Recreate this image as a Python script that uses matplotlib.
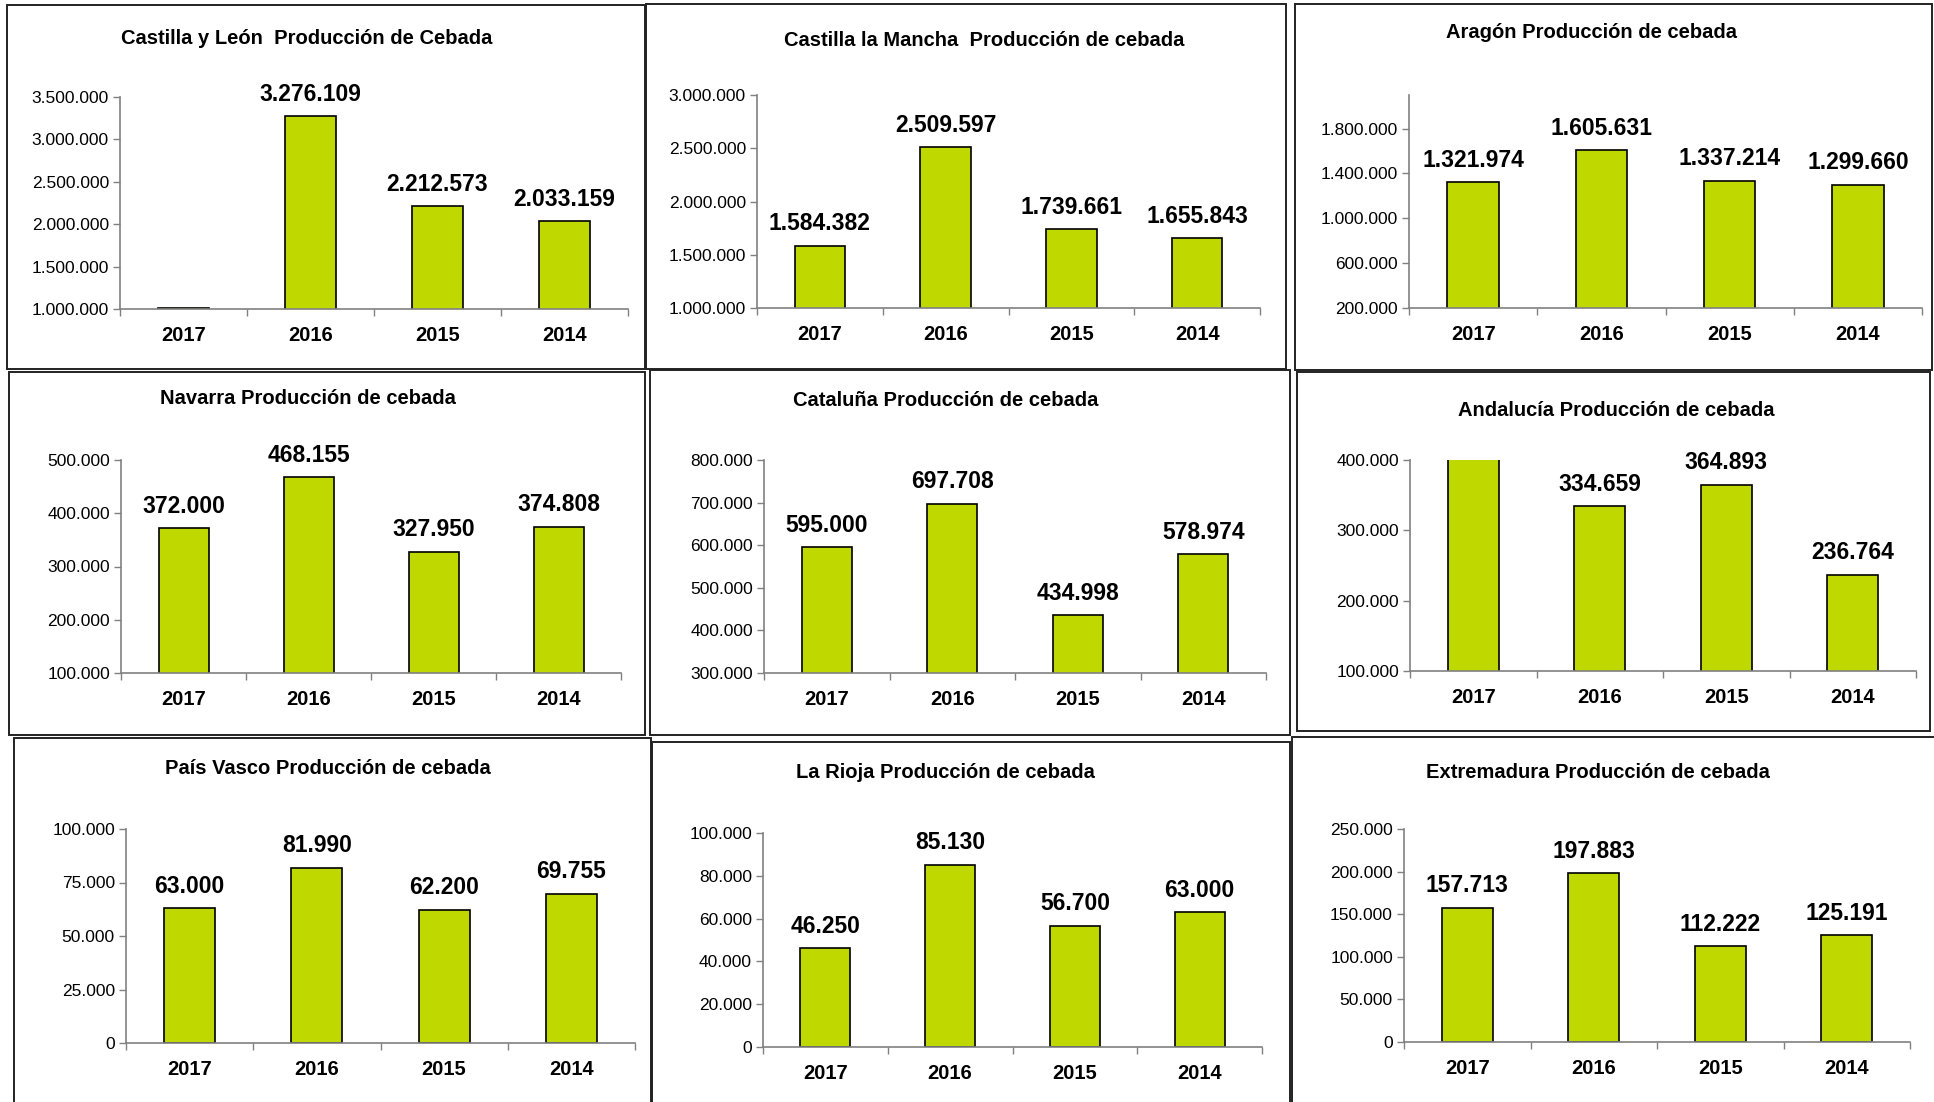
import matplotlib
matplotlib.use("Agg")
import matplotlib.pyplot as plt
from matplotlib.patches import Rectangle
from matplotlib.ticker import FuncFormatter, FixedLocator

plt.rcParams['font.family'] = ['Liberation Sans', 'DejaVu Sans']

years = ["2017", "2016", "2015", "2014"]

titles = [
    "Castilla y León  Producción de Cebada",
    "Castilla la Mancha  Producción de cebada",
    "Aragón Producción de cebada",
    "Navarra Producción de cebada",
    "Cataluña Producción de cebada",
    "Andalucía Producción de cebada",
    "País Vasco Producción de cebada",
    "La Rioja Producción de cebada",
    "Extremadura Producción de cebada",
]

castilla_leon = [1010000, 3276109, 2212573, 2033159]
castilla_mancha = [1584382, 2509597, 1739661, 1655843]
aragon = [1321974, 1605631, 1337214, 1299660]
navarra = [372000, 468155, 327950, 374808]
cataluna = [595000, 697708, 434998, 578974]
andalucia = [420000, 334659, 364893, 236764]
pais_vasco = [63000, 81990, 62200, 69755]
la_rioja = [46250, 85130, 56700, 63000]
extremadura = [157713, 197883, 112222, 125191]

series = [castilla_leon, castilla_mancha, aragon, navarra, cataluna,
          andalucia, pais_vasco, la_rioja, extremadura]

# y-axis ranges (min, max, step)
yaxes = [
    (1000000, 3500000, 500000),
    (1000000, 3000000, 500000),
    (200000, 2100000, 400000),
    (100000, 500000, 100000),
    (300000, 800000, 100000),
    (100000, 400000, 100000),
    (0, 100000, 25000),
    (0, 100000, 20000),
    (0, 250000, 50000),
]

W, H = 1934, 1102
# plot areas in pixels: x0, x1, ytop, ybottom
areas = [
    (120, 628, 97, 309),
    (757, 1260, 95, 308),
    (1409, 1922, 95, 308),
    (121, 621, 460, 673),
    (764, 1266, 460, 673),
    (1410, 1916, 460, 671),
    (126, 635, 829, 1043),
    (763, 1262, 833, 1047),
    (1404, 1910, 829, 1042),
]
title_pos = [
    (307, 38), (984, 41), (1591, 33),
    (308, 399), (946, 400), (1616, 411),
    (328, 768), (945, 772), (1598, 772),
]
borders = [
    (7, 5, 645, 369), (646, 4, 1286, 369), (1295, 4, 1932, 370),
    (9, 372, 645, 735), (650, 370, 1290, 735), (1297, 372, 1930, 731),
    (14, 738, 651, 1110), (652, 742, 1290, 1110), (1292, 737, 1940, 1110),
]

bar_color = "#BFD800"

fig = plt.figure(figsize=(W / 100, H / 100), dpi=100)
fig.patch.set_facecolor("white")

for (bx0, by0, bx1, by1) in borders:
    fig.patches.append(Rectangle((bx0 / W, 1 - by1 / H), (bx1 - bx0) / W, (by1 - by0) / H,
                                 transform=fig.transFigure, fill=False,
                                 edgecolor="#222222", linewidth=1.4, zorder=0))


def fmt(v, _=None):
    return f"{int(round(v)):,}".replace(",", ".")


for i in range(9):
    x0, x1, yt, yb = areas[i]
    ax = fig.add_axes([x0 / W, 1 - yb / H, (x1 - x0) / W, (yb - yt) / H])
    ax.set_facecolor("none")
    vals = series[i]
    ymin, ymax, step = yaxes[i]
    xs = list(range(len(years)))
    ax.bar(xs, vals, width=0.4, color=bar_color, edgecolor="black", linewidth=1.2, zorder=2)
    ax.set_xlim(-0.5, 3.5)
    ax.set_ylim(ymin, ymax)
    for x, v in zip(xs, vals):
        if v > ymax or (v - ymin) < 0.02 * (ymax - ymin):
            continue
        ax.annotate(fmt(v), (x, v), xytext=(0, 7.5), textcoords="offset points",
                    ha="center", va="bottom", fontsize=16.5, fontweight="bold")
    ticks = []
    t = ymin
    while t <= ymax + 1e-6:
        ticks.append(t)
        t += step
    ax.yaxis.set_major_locator(FixedLocator(ticks))
    ax.yaxis.set_major_formatter(FuncFormatter(fmt))
    ax.set_xticks(xs)
    ax.set_xticklabels(years, fontsize=14.5, fontweight="bold")
    ax.xaxis.set_minor_locator(FixedLocator([-0.5, 0.5, 1.5, 2.5, 3.5]))
    ax.tick_params(axis="x", which="major", length=0, pad=12)
    ax.tick_params(axis="x", which="minor", length=5, width=1, color="#808080", direction="out")
    ax.tick_params(axis="y", which="major", length=5, width=1, color="#808080", direction="out",
                   labelsize=12.5, pad=3)
    for s in ["top", "right"]:
        ax.spines[s].set_visible(False)
    for s in ["left", "bottom"]:
        ax.spines[s].set_color("#808080")
        ax.spines[s].set_linewidth(1.2)
    ax.spines["bottom"].set_zorder(3)
    tx, ty = title_pos[i]
    fig.text(tx / W, 1 - ty / H, titles[i], ha="center", va="center",
             fontsize=14.5, fontweight="bold")

fig.savefig("out.png", dpi=100, facecolor="white")
